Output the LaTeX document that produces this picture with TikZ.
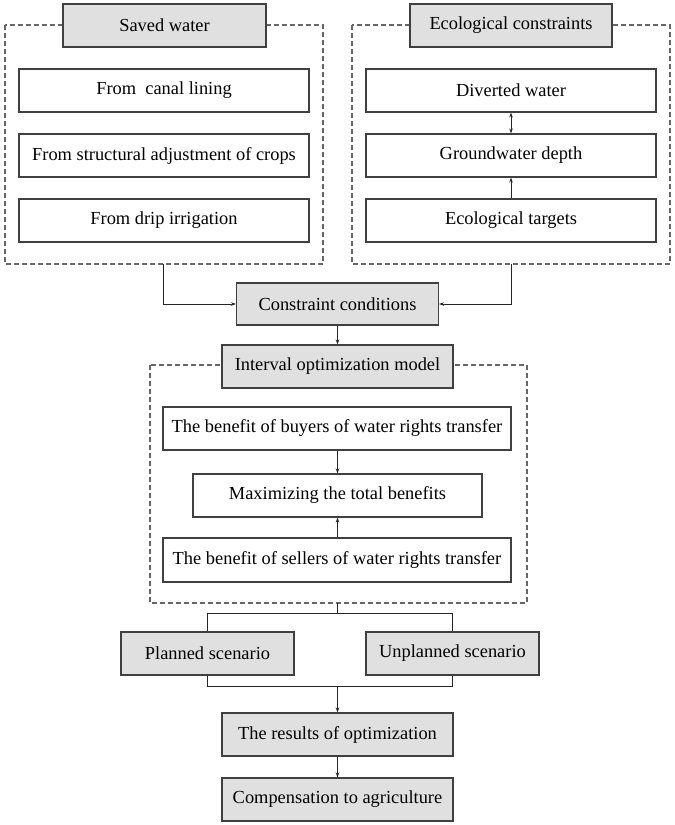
\documentclass[tikz,border=0pt]{standalone}
\usepackage{fontspec}
\setmainfont{Liberation Serif}
\usetikzlibrary{arrows.meta}
\definecolor{hdrfill}{HTML}{E0E0E0}
\definecolor{boxdraw}{HTML}{404040}
\definecolor{dashdraw}{HTML}{666666}
\tikzset{
  base/.style={draw=boxdraw, line width=1.1pt, inner sep=0pt, align=center,
    font=\fontsize{18.4}{21}\selectfont},
  whitebox/.style={base, fill=white},
  graybox/.style={base, fill=hdrfill},
  group/.style={draw=dashdraw, line width=1.1pt, dash pattern=on 5pt off 3pt},
  conn/.style={draw=black!85, line width=0.8pt},
  arr/.style={conn, -{Stealth[length=5pt,width=3.5pt]}},
  darr/.style={conn, {Stealth[length=5pt,width=3.5pt]}-{Stealth[length=5pt,width=3.5pt]}}
}
\begin{document}
\begin{tikzpicture}[x=1pt,y=-1pt]
\useasboundingbox (0,0) rectangle (675,825);
% dashed groups
\draw[group] (5,25) rectangle (323,264);
\draw[group] (352,25) rectangle (670,264);
\draw[group] (150,365) rectangle (527,603);
% left group
\node[graybox, minimum width=203pt, minimum height=43pt] (saved) at (164.5,25.5) {Saved water};
\node[whitebox, minimum width=290pt, minimum height=43pt] (canal) at (164,90.5) {From\ \ canal lining};
\node[whitebox, minimum width=290pt, minimum height=43pt] (struct) at (164,155.5) {From structural adjustment of crops};
\node[whitebox, minimum width=290pt, minimum height=43pt] (drip) at (164,220.5) {From drip irrigation};
% right group
\node[graybox, minimum width=202pt, minimum height=43pt] (eco) at (511,25.5) {Ecological constraints};
\node[whitebox, minimum width=290pt, minimum height=43pt] (div) at (511,90.5) {Diverted water};
\node[whitebox, minimum width=290pt, minimum height=43pt] (ground) at (511,155.5) {Groundwater depth};
\node[whitebox, minimum width=290pt, minimum height=43pt] (targets) at (511,220.5) {Ecological targets};
% middle
\node[graybox, minimum width=202pt, minimum height=42pt] (cons) at (337.5,304) {Constraint conditions};
\node[graybox, minimum width=231pt, minimum height=43pt] (model) at (337.5,366.5) {Interval optimization model};
\node[whitebox, minimum width=348pt, minimum height=43pt] (buyers) at (337,428.5) {The benefit of buyers of water rights transfer};
\node[whitebox, minimum width=289pt, minimum height=43pt] (maxb) at (337.5,495.5) {Maximizing the total benefits};
\node[whitebox, minimum width=348pt, minimum height=44pt] (sellers) at (337,560) {The benefit of sellers of water rights transfer};
% bottom
\node[graybox, minimum width=173pt, minimum height=43pt] (planned) at (207.5,653.5) {Planned scenario};
\node[graybox, minimum width=173pt, minimum height=43pt] (unplanned) at (452.5,653.5) {Unplanned scenario};
\node[graybox, minimum width=231pt, minimum height=43pt] (results) at (337.5,734.5) {The results of optimization};
\node[graybox, minimum width=231pt, minimum height=43pt] (comp) at (337.5,799.5) {Compensation to agriculture};
% coordinates
\coordinate (sb) at (163,264);
\coordinate (eb) at (511,264);
\coordinate (mb) at (337.5,603);
\coordinate (split) at (337.5,613);
\coordinate (join) at (337.5,686);
% connectors
\draw[darr] (div.south) -- (ground.north);
\draw[arr] (targets.north) -- (ground.south);
\draw[arr] (sb) |- (cons.west);
\draw[arr] (eb) |- (cons.east);
\draw[arr] (cons.south) -- (model.north);
\draw[arr] (buyers.south -| maxb.north) -- (maxb.north);
\draw[arr] (sellers.north -| maxb.south) -- (maxb.south);
\draw[conn] (mb) -- (split);
\draw[conn] (planned.north) -- (planned.north |- split) -- (unplanned.north |- split) -- (unplanned.north);
\draw[conn] (planned.south) -- (planned.south |- join) -- (unplanned.south |- join) -- (unplanned.south);
\draw[arr] (join) -- (results.north);
\draw[arr] (results.south) -- (comp.north);
\end{tikzpicture}
\end{document}
